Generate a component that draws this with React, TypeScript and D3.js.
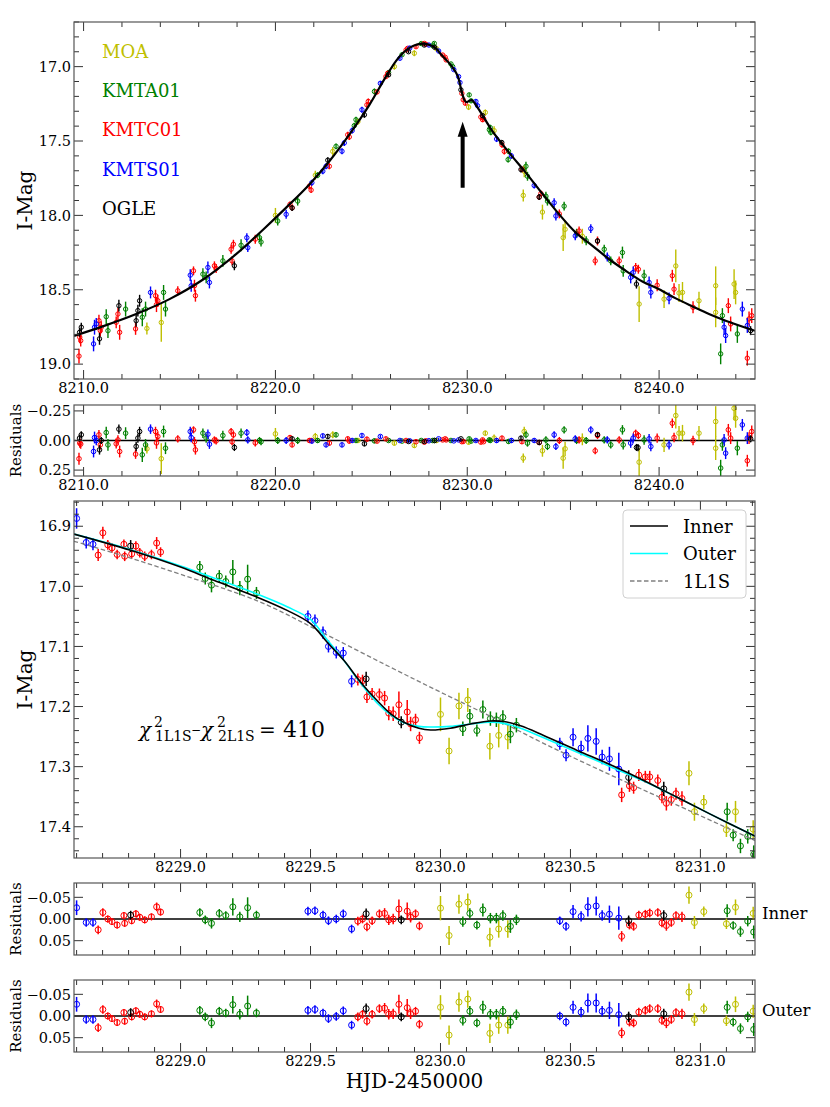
import React from 'react';
import * as d3 from 'd3';

type Pt = [number, number, number];
type ZPt = [number, number, number, number, number];

// ---- overview light curve: [HJD', I mag, err] ----
const moaTop: Pt[] = [
  [8213.30, 18.76, 0.04], [8214.05, 18.72, 0.13], [8220.00, 18.00, 0.05], [8222.08, 17.73, 0.03],
  [8222.99, 17.57, 0.03], [8224.30, 17.37, 0.02], [8226.20, 17.00, 0.02], [8227.24, 16.91, 0.02],
  [8228.40, 16.88, 0.02], [8230.07, 17.272, 0.02], [8230.94, 17.308, 0.02], [8231.40, 17.43, 0.03],
  [8232.92, 17.866, 0.04], [8232.97, 17.703, 0.04], [8233.92, 17.978, 0.05], [8235.00, 18.15, 0.09],
  [8235.10, 18.094, 0.06], [8236.00, 18.14, 0.05], [8238.96, 18.596, 0.12], [8240.26, 18.563, 0.06],
  [8240.87, 18.34, 0.11], [8241.04, 18.522, 0.06], [8241.22, 18.518, 0.07], [8242.08, 18.574, 0.06],
  [8242.95, 18.473, 0.13], [8242.95, 18.652, 0.1], [8243.91, 18.462, 0.1], [8243.99, 18.518, 0.08],
];
const kmtaTop: Pt[] = [
  [8211.18, 18.681, 0.05], [8211.27, 18.775, 0.05], [8212.19, 18.63, 0.05], [8213.06, 18.685, 0.06],
  [8213.23, 18.63, 0.05], [8214.17, 18.518, 0.05], [8214.27, 18.63, 0.05], [8216.22, 18.395, 0.04],
  [8216.39, 18.417, 0.04], [8217.26, 18.306, 0.04], [8218.21, 18.201, 0.04], [8219.17, 18.15, 0.03],
  [8219.25, 18.179, 0.03], [8220.12, 18.038, 0.03], [8221.16, 17.904, 0.03], [8222.20, 17.73, 0.02],
  [8223.16, 17.536, 0.02], [8224.11, 17.397, 0.02], [8224.20, 17.357, 0.02], [8225.16, 17.167, 0.02],
  [8225.90, 17.04, 0.015], [8226.60, 16.92, 0.01], [8227.60, 16.845, 0.01], [8228.20, 16.86, 0.01],
  [8228.28, 16.844, 0.01], [8229.15, 16.982, 0.01], [8229.24, 17.0, 0.01], [8230.10, 17.19, 0.015],
  [8230.20, 17.23, 0.015], [8231.15, 17.424, 0.02], [8231.20, 17.41, 0.02], [8231.23, 17.442, 0.02],
  [8232.13, 17.625, 0.02], [8232.15, 17.569, 0.02], [8233.06, 17.67, 0.03], [8233.14, 17.737, 0.03],
  [8234.10, 17.871, 0.03], [8234.18, 17.904, 0.03], [8235.05, 17.938, 0.03], [8235.70, 18.12, 0.03],
  [8236.20, 18.17, 0.03], [8237.14, 18.228, 0.03], [8237.48, 18.306, 0.03], [8238.09, 18.25, 0.04],
  [8238.13, 18.373, 0.04], [8239.22, 18.406, 0.04], [8243.21, 18.931, 0.07], [8243.30, 18.674, 0.05],
  [8244.08, 18.797, 0.06],
];
const kmtcTop: Pt[] = [
  [8209.76, 18.946, 0.05], [8209.80, 18.819, 0.04], [8209.85, 18.842, 0.04], [8210.80, 18.708, 0.04],
  [8210.87, 18.775, 0.04], [8210.92, 18.752, 0.04], [8211.70, 18.719, 0.04], [8211.79, 18.663, 0.04],
  [8211.88, 18.786, 0.05], [8212.71, 18.763, 0.04], [8213.75, 18.54, 0.04], [8213.80, 18.60, 0.05],
  [8213.87, 18.574, 0.04], [8214.91, 18.507, 0.03], [8215.73, 18.373, 0.03], [8215.78, 18.473, 0.04],
  [8215.83, 18.54, 0.04], [8216.82, 18.339, 0.03], [8216.91, 18.357, 0.03], [8217.69, 18.228, 0.03],
  [8217.74, 18.306, 0.03], [8217.81, 18.194, 0.03], [8218.95, 18.16, 0.03], [8220.76, 17.926, 0.02],
  [8220.87, 17.949, 0.02], [8221.77, 17.804, 0.02], [8221.86, 17.83, 0.02], [8222.81, 17.67, 0.02],
  [8223.77, 17.458, 0.02], [8223.85, 17.473, 0.02], [8224.77, 17.257, 0.02], [8224.84, 17.234, 0.02],
  [8225.30, 17.17, 0.015], [8225.76, 17.067, 0.015], [8225.85, 17.045, 0.015], [8226.81, 16.888, 0.01],
  [8226.89, 16.877, 0.01], [8227.33, 16.866, 0.01], [8227.76, 16.844, 0.01], [8227.85, 16.85, 0.01],
  [8228.72, 16.922, 0.01], [8228.85, 16.937, 0.01], [8228.90, 16.955, 0.01], [8229.72, 17.18, 0.01],
  [8229.79, 17.223, 0.015], [8229.90, 17.246, 0.015], [8230.71, 17.339, 0.015], [8230.80, 17.357, 0.015],
  [8230.85, 17.35, 0.01], [8231.81, 17.525, 0.02], [8231.93, 17.57, 0.02], [8232.85, 17.69, 0.02],
  [8233.75, 17.877, 0.02], [8233.84, 17.853, 0.02], [8234.80, 17.99, 0.03], [8235.83, 18.105, 0.03],
  [8236.67, 18.306, 0.03], [8236.79, 18.172, 0.03], [8237.92, 18.306, 0.03], [8238.78, 18.35, 0.03],
  [8238.92, 18.362, 0.03], [8239.90, 18.47, 0.04], [8240.69, 18.406, 0.04], [8240.78, 18.496, 0.04],
  [8241.77, 18.618, 0.04], [8243.61, 18.607, 0.05], [8243.73, 18.73, 0.05], [8244.60, 18.96, 0.05],
  [8244.69, 18.696, 0.05], [8244.83, 18.674, 0.05],
];
const kmtsTop: Pt[] = [
  [8210.52, 18.864, 0.05], [8210.57, 18.752, 0.05], [8210.66, 18.73, 0.04], [8213.49, 18.518, 0.04],
  [8215.56, 18.402, 0.04], [8215.61, 18.473, 0.04], [8216.48, 18.35, 0.04], [8216.56, 18.451, 0.04],
  [8218.51, 18.15, 0.03], [8218.56, 18.217, 0.03], [8220.56, 17.993, 0.03], [8221.90, 17.78, 0.02],
  [8222.47, 17.703, 0.02], [8222.64, 17.67, 0.02], [8223.47, 17.569, 0.02], [8223.59, 17.513, 0.02],
  [8224.00, 17.43, 0.02], [8224.51, 17.29, 0.02], [8225.47, 17.112, 0.015], [8226.49, 16.944, 0.01],
  [8227.00, 16.875, 0.01], [8228.00, 16.855, 0.01], [8228.51, 16.895, 0.01], [8229.30, 17.02, 0.01],
  [8229.55, 17.067, 0.01], [8229.62, 17.107, 0.01], [8230.45, 17.234, 0.015], [8230.54, 17.263, 0.015],
  [8231.53, 17.487, 0.02], [8232.30, 17.60, 0.02], [8233.49, 17.799, 0.02], [8234.53, 17.915, 0.03],
  [8234.62, 18.004, 0.03], [8235.63, 18.138, 0.03], [8236.44, 18.089, 0.03], [8237.30, 18.28, 0.03],
  [8238.52, 18.417, 0.04], [8238.65, 18.384, 0.04], [8239.48, 18.451, 0.04], [8239.57, 18.518, 0.04],
  [8240.52, 18.558, 0.04], [8243.39, 18.752, 0.05], [8243.47, 18.808, 0.05], [8244.34, 18.63, 0.05],
  [8244.60, 18.74, 0.05],
];
const ogleTop: Pt[] = [
  [8209.79, 18.786, 0.03], [8209.88, 18.752, 0.03], [8210.83, 18.83, 0.04], [8211.84, 18.607, 0.04],
  [8212.74, 18.708, 0.04], [8212.83, 18.64, 0.04], [8212.92, 18.574, 0.04], [8217.86, 18.339, 0.03],
  [8220.87, 17.95, 0.02], [8222.73, 17.629, 0.02], [8224.64, 17.324, 0.02], [8225.90, 17.055, 0.015],
  [8226.94, 16.90, 0.01], [8227.76, 16.855, 0.01], [8228.30, 16.87, 0.01], [8229.67, 17.156, 0.01],
  [8230.80, 17.33, 0.015], [8231.80, 17.51, 0.015], [8232.80, 17.692, 0.02], [8233.75, 17.877, 0.02],
  [8236.79, 18.172, 0.02], [8238.82, 18.462, 0.03], [8244.77, 18.775, 0.03],
];

// ---- overview residuals: [HJD', residual, err] ----
const moaRes: Pt[] = [
  [8213.30, 0.07, 0.04], [8214.05, 0.154, 0.13], [8220.00, -0.056, 0.05], [8222.08, -0.034, 0.03],
  [8222.99, -0.048, 0.03], [8224.30, 0.0, 0.02], [8226.20, 0.022, 0.02], [8227.24, 0.042, 0.02],
  [8228.40, 0.0, 0.02], [8230.07, 0.014, 0.02], [8230.94, -0.062, 0.02], [8231.40, -0.02, 0.03],
  [8232.92, 0.149, 0.04], [8232.97, -0.076, 0.04], [8233.92, 0.087, 0.05], [8235.00, 0.149, 0.09],
  [8235.10, 0.07, 0.06], [8236.00, -0.01, 0.05], [8238.96, 0.183, 0.12], [8240.26, 0.037, 0.06],
  [8240.87, -0.211, 0.11], [8241.04, -0.062, 0.06], [8241.22, -0.062, 0.07], [8242.08, -0.062, 0.06],
  [8242.95, -0.16, 0.13], [8242.95, 0.065, 0.1], [8243.91, -0.272, 0.1], [8243.99, -0.188, 0.08],
];
const kmtaRes: Pt[] = [
  [8211.18, -0.067, 0.05], [8211.27, 0.037, 0.05], [8212.19, -0.062, 0.05], [8213.06, 0.121, 0.06],
  [8213.23, 0.037, 0.05], [8214.17, -0.076, 0.05], [8214.27, 0.065, 0.05], [8216.22, -0.062, 0.04],
  [8216.39, -0.02, 0.04], [8217.26, -0.042, 0.04], [8218.21, -0.062, 0.04], [8219.17, 0.0, 0.03],
  [8219.25, 0.01, 0.03], [8220.12, 0.0, 0.03], [8221.16, 0.0, 0.03], [8222.20, 0.0, 0.02],
  [8223.16, -0.048, 0.02], [8224.20, 0.0, 0.02], [8225.16, 0.003, 0.02], [8225.90, 0.0, 0.015],
  [8226.60, 0.005, 0.01], [8227.60, 0.0, 0.01], [8228.20, 0.0, 0.01], [8228.28, 0.0, 0.01],
  [8229.15, 0.0, 0.01], [8230.10, -0.014, 0.015], [8230.20, 0.005, 0.015], [8231.15, -0.005, 0.02],
  [8231.20, 0.0, 0.02], [8232.15, 0.008, 0.02], [8233.06, -0.048, 0.03], [8233.14, 0.022, 0.03],
  [8234.10, -0.005, 0.03], [8234.18, 0.051, 0.03], [8235.05, -0.09, 0.03], [8235.70, 0.0, 0.03],
  [8236.20, 0.0, 0.03], [8237.14, -0.005, 0.03], [8237.48, 0.037, 0.03], [8238.09, -0.09, 0.04],
  [8238.13, 0.037, 0.04], [8239.22, -0.005, 0.04], [8243.21, 0.233, 0.07], [8243.30, 0.037, 0.05],
  [8244.08, 0.065, 0.06],
];
const kmtcRes: Pt[] = [
  [8209.76, 0.154, 0.05], [8209.80, 0.022, 0.04], [8209.85, 0.03, 0.04], [8210.80, -0.048, 0.04],
  [8210.87, 0.037, 0.04], [8211.70, 0.028, 0.04], [8211.79, -0.005, 0.04], [8211.88, 0.093, 0.05],
  [8212.71, 0.115, 0.04], [8213.75, -0.076, 0.04], [8213.80, 0.02, 0.05], [8213.87, -0.034, 0.04],
  [8214.91, -0.014, 0.03], [8215.73, -0.09, 0.03], [8215.78, 0.01, 0.04], [8215.83, 0.079, 0.04],
  [8216.82, -0.005, 0.03], [8216.91, 0.003, 0.03], [8217.69, -0.076, 0.03], [8217.74, 0.01, 0.03],
  [8217.81, -0.048, 0.03], [8218.95, 0.02, 0.03], [8220.76, -0.025, 0.02], [8220.87, 0.037, 0.02],
  [8221.77, 0.0, 0.02], [8221.86, 0.0, 0.02], [8222.81, 0.022, 0.02], [8223.77, -0.014, 0.02],
  [8223.85, 0.005, 0.02], [8224.77, -0.011, 0.02], [8225.30, 0.005, 0.015], [8225.76, -0.014, 0.015],
  [8226.81, 0.0, 0.01], [8227.33, 0.01, 0.01], [8227.76, 0.014, 0.01], [8227.85, 0.003, 0.01],
  [8228.72, -0.005, 0.01], [8228.85, -0.014, 0.01], [8228.90, -0.005, 0.01], [8229.72, 0.01, 0.01],
  [8229.79, 0.008, 0.015], [8230.71, 0.014, 0.015], [8230.80, -0.005, 0.015], [8230.85, 0.01, 0.01],
  [8231.81, -0.02, 0.02], [8232.85, 0.01, 0.02], [8233.75, 0.017, 0.02], [8234.80, 0.0, 0.03],
  [8235.83, -0.005, 0.03], [8236.67, 0.087, 0.03], [8236.79, -0.042, 0.03], [8237.92, -0.005, 0.03],
  [8238.78, -0.062, 0.03], [8238.92, -0.042, 0.03], [8239.90, -0.02, 0.04], [8240.69, -0.146, 0.04],
  [8240.78, -0.025, 0.04], [8241.77, 0.0, 0.04], [8243.61, -0.09, 0.05], [8243.73, -0.02, 0.05],
  [8244.60, 0.171, 0.05], [8244.69, -0.02, 0.05], [8244.83, -0.076, 0.05],
];
const kmtsRes: Pt[] = [
  [8210.52, 0.093, 0.05], [8210.57, -0.025, 0.05], [8210.66, 0.0, 0.04], [8213.49, -0.096, 0.04],
  [8215.56, -0.076, 0.04], [8215.61, -0.025, 0.04], [8216.48, -0.053, 0.04], [8216.56, 0.031, 0.04],
  [8218.51, -0.067, 0.03], [8218.56, -0.005, 0.03], [8220.56, 0.0, 0.03], [8221.90, 0.005, 0.02],
  [8222.47, -0.039, 0.02], [8222.64, 0.037, 0.02], [8223.47, 0.037, 0.02], [8224.00, 0.0, 0.02],
  [8224.51, -0.042, 0.02], [8225.47, -0.034, 0.015], [8226.49, 0.0, 0.01], [8227.00, 0.003, 0.01],
  [8228.00, 0.002, 0.01], [8228.51, -0.014, 0.01], [8229.30, 0.003, 0.01], [8229.55, -0.005, 0.01],
  [8230.45, 0.0, 0.015], [8231.53, 0.0, 0.02], [8232.30, 0.0, 0.02], [8233.49, 0.0, 0.02],
  [8234.53, -0.048, 0.03], [8234.62, 0.051, 0.03], [8235.63, -0.014, 0.03], [8236.44, -0.09, 0.03],
  [8237.30, -0.005, 0.03], [8238.52, 0.022, 0.04], [8238.65, -0.02, 0.04], [8239.48, -0.014, 0.04],
  [8239.57, 0.051, 0.04], [8240.52, 0.037, 0.04], [8243.39, -0.005, 0.05], [8243.47, 0.107, 0.05],
  [8244.34, -0.132, 0.05], [8244.60, -0.02, 0.05],
];
const ogleRes: Pt[] = [
  [8209.79, -0.02, 0.03], [8209.88, -0.048, 0.03], [8210.83, 0.079, 0.04], [8210.92, 0.0, 0.03],
  [8211.84, -0.096, 0.04], [8212.74, 0.05, 0.04], [8212.83, -0.02, 0.04], [8212.92, -0.076, 0.04],
  [8217.86, 0.059, 0.03], [8220.87, -0.014, 0.02], [8222.73, -0.034, 0.02], [8224.64, 0.028, 0.02],
  [8226.94, 0.008, 0.01], [8227.76, 0.008, 0.01], [8228.30, 0.0, 0.01], [8229.67, -0.014, 0.01],
  [8232.80, -0.02, 0.02], [8233.75, 0.017, 0.02], [8236.79, -0.05, 0.02], [8238.82, 0.059, 0.03],
  [8238.90, 0.06, 0.03], [8244.77, -0.014, 0.03],
];

// ---- anomaly zoom: [HJD', I mag, err, resid inner, resid outer] ----
const moaZoom: ZPt[] = [
  [8230.000, 17.213, 0.028, -0.025, -0.020], [8230.033, 17.274, 0.022, 0.038, 0.044],
  [8230.071, 17.199, 0.022, -0.034, -0.032], [8230.105, 17.189, 0.02, -0.039, -0.039],
  [8230.190, 17.266, 0.022, 0.042, 0.040], [8230.224, 17.248, 0.02, 0.023, 0.021],
  [8230.259, 17.251, 0.02, 0.023, 0.021], [8230.956, 17.311, 0.02, -0.055, -0.055],
  [8230.977, 17.375, 0.015, 0.008, 0.008], [8231.013, 17.359, 0.012, -0.017, -0.017],
  [8231.100, 17.405, 0.012, 0.011, 0.011], [8231.135, 17.375, 0.018, -0.027, -0.027],
  [8231.203, 17.404, 0.015, -0.013, -0.011],
];
const kmtaZoom: ZPt[] = [
  [8229.074, 16.968, 0.01, -0.015, -0.013], [8229.095, 16.987, 0.01, 0.002, 0.002],
  [8229.119, 16.998, 0.012, 0.010, 0.016], [8229.149, 16.983, 0.01, -0.013, -0.011],
  [8229.174, 16.992, 0.01, -0.008, -0.007], [8229.201, 16.976, 0.02, -0.028, -0.026],
  [8229.228, 17.003, 0.012, -0.005, -0.004], [8229.258, 16.988, 0.024, -0.026, -0.023],
  [8229.292, 17.011, 0.01, -0.009, -0.007], [8230.086, 17.237, 0.012, 0.006, 0.010],
  [8230.113, 17.216, 0.012, -0.013, -0.011], [8230.140, 17.240, 0.01, 0.014, 0.016],
  [8230.163, 17.205, 0.015, -0.021, -0.020], [8230.192, 17.220, 0.012, -0.002, -0.004],
  [8230.215, 17.222, 0.012, -0.002, -0.004], [8230.240, 17.218, 0.012, -0.008, -0.011],
  [8230.269, 17.246, 0.015, 0.017, 0.014], [8230.292, 17.231, 0.012, 0.002, -0.003],
  [8231.103, 17.375, 0.015, -0.019, -0.020], [8231.126, 17.414, 0.01, 0.015, 0.014],
  [8231.154, 17.432, 0.012, 0.029, 0.029], [8231.182, 17.416, 0.012, 0.005, 0.002],
  [8231.205, 17.446, 0.015, 0.030, 0.031],
];
const kmtcZoom: ZPt[] = [
  [8228.683, 16.948, 0.01, 0.025, 0.027], [8228.701, 16.911, 0.01, -0.015, -0.015],
  [8228.720, 16.931, 0.008, 0.0, 0.0], [8228.736, 16.936, 0.008, 0.006, 0.006],
  [8228.756, 16.947, 0.008, 0.014, 0.015], [8228.782, 16.930, 0.008, -0.008, -0.008],
  [8228.785, 16.950, 0.008, 0.010, 0.012], [8228.812, 16.946, 0.008, 0.004, 0.002],
  [8228.828, 16.933, 0.008, -0.012, -0.012], [8228.843, 16.944, 0.008, -0.004, -0.004],
  [8228.862, 16.950, 0.008, 0.002, 0.002], [8228.888, 16.947, 0.008, -0.005, -0.005],
  [8228.908, 16.928, 0.01, -0.028, -0.028], [8228.923, 16.943, 0.008, -0.016, -0.015],
  [8229.682, 17.155, 0.01, 0.005, 0.002], [8229.700, 17.157, 0.01, 0.0, -0.004],
  [8229.717, 17.184, 0.01, 0.018, 0.012], [8229.737, 17.179, 0.01, 0.004, -0.004],
  [8229.765, 17.180, 0.01, -0.012, -0.017], [8229.785, 17.186, 0.012, -0.013, -0.018],
  [8229.801, 17.211, 0.012, 0.002, -0.004], [8229.818, 17.212, 0.012, 0.0, -0.005],
  [8229.840, 17.197, 0.022, -0.023, -0.027], [8229.872, 17.209, 0.02, -0.018, -0.019],
  [8229.885, 17.229, 0.012, -0.004, -0.005], [8229.904, 17.222, 0.01, -0.012, -0.011],
  [8229.919, 17.252, 0.01, 0.016, 0.019], [8230.697, 17.347, 0.012, 0.040, 0.039],
  [8230.727, 17.332, 0.01, 0.014, 0.014], [8230.743, 17.335, 0.01, 0.017, 0.016],
  [8230.763, 17.314, 0.01, -0.009, -0.009], [8230.788, 17.317, 0.01, -0.011, -0.013],
  [8230.805, 17.317, 0.01, -0.014, -0.017], [8230.836, 17.323, 0.01, -0.015, -0.017],
  [8230.852, 17.351, 0.01, 0.009, 0.010], [8230.869, 17.361, 0.012, 0.015, 0.016],
  [8230.888, 17.355, 0.01, 0.008, 0.008], [8230.906, 17.345, 0.01, -0.008, -0.008],
  [8230.929, 17.353, 0.012, -0.005, -0.005],
];
const kmtsZoom: ZPt[] = [
  [8228.600, 16.887, 0.017, -0.026, -0.027], [8228.637, 16.927, 0.01, 0.008, 0.008],
  [8228.663, 16.930, 0.01, 0.008, 0.008], [8229.490, 17.050, 0.01, -0.018, -0.013],
  [8229.517, 17.057, 0.01, -0.019, -0.015], [8229.548, 17.077, 0.01, -0.009, -0.007],
  [8229.569, 17.100, 0.01, 0.004, 0.006], [8229.599, 17.110, 0.01, 0.0, 0.001],
  [8229.626, 17.111, 0.01, -0.012, -0.012], [8229.658, 17.158, 0.01, 0.023, 0.021],
  [8230.459, 17.262, 0.01, 0.004, 0.0], [8230.483, 17.281, 0.01, 0.017, 0.014],
  [8230.510, 17.251, 0.015, -0.017, -0.020], [8230.541, 17.269, 0.012, -0.006, -0.009],
  [8230.567, 17.253, 0.022, -0.028, -0.030], [8230.599, 17.258, 0.022, -0.030, -0.030],
  [8230.622, 17.284, 0.012, -0.008, -0.011], [8230.650, 17.287, 0.02, -0.011, -0.013],
  [8230.686, 17.304, 0.027, -0.002, -0.003],
];
const ogleZoom: ZPt[] = [
  [8228.808, 16.933, 0.01, -0.009, -0.008], [8229.714, 17.154, 0.012, -0.012, -0.017],
  [8229.849, 17.226, 0.01, 0.002, 0.002], [8230.724, 17.318, 0.012, 0.004, 0.002],
  [8230.859, 17.337, 0.012, -0.008, -0.005],
];

// ---- model curves [HJD', I mag] ----
const modelTop: [number, number][] = [
  [8209.5, 18.81], [8211.0, 18.746], [8212.74, 18.663], [8214.48, 18.563], [8216.21, 18.433],
  [8217.95, 18.261], [8219.34, 18.098], [8220.56, 17.948], [8221.77, 17.792], [8222.81, 17.636],
  [8223.85, 17.457], [8224.9, 17.257], [8225.76, 17.067], [8226.3, 16.96], [8226.63, 16.91],
  [8227.0, 16.872], [8227.4, 16.85], [8227.75, 16.845], [8228.05, 16.855], [8228.37, 16.877],
  [8228.6, 16.913], [8229.0, 16.968], [8229.3, 17.017], [8229.5, 17.062], [8229.628, 17.123],
  [8229.756, 17.19], [8229.859, 17.226], [8229.962, 17.239], [8230.115, 17.229], [8230.244, 17.225],
  [8230.397, 17.248], [8230.526, 17.273], [8230.654, 17.297], [8230.91, 17.351], [8231.32, 17.435],
  [8232.19, 17.58], [8233.06, 17.714], [8233.92, 17.855], [8234.79, 17.993], [8235.66, 18.116],
  [8236.53, 18.205], [8237.4, 18.295], [8238.27, 18.373], [8239.13, 18.444], [8240.0, 18.496],
  [8240.87, 18.558], [8241.74, 18.612], [8242.6, 18.663], [8243.47, 18.708], [8245.0, 18.776],
];
const modelInner: [number, number][] = [
  [8228.59, 16.913], [8228.808, 16.94], [8229.0, 16.968], [8229.128, 16.99], [8229.295, 17.018],
  [8229.41, 17.04], [8229.5, 17.062], [8229.564, 17.093], [8229.628, 17.123], [8229.692, 17.159],
  [8229.756, 17.19], [8229.808, 17.212], [8229.859, 17.226], [8229.917, 17.236], [8229.962, 17.239],
  [8230.038, 17.236], [8230.115, 17.229], [8230.192, 17.224], [8230.244, 17.225], [8230.308, 17.232],
  [8230.397, 17.248], [8230.526, 17.273], [8230.654, 17.297], [8230.782, 17.323], [8230.91, 17.351],
  [8231.038, 17.379], [8231.212, 17.416],
];
const modelOuter: [number, number][] = [
  [8228.59, 16.913], [8228.808, 16.939], [8229.0, 16.966], [8229.128, 16.986], [8229.295, 17.013],
  [8229.41, 17.034], [8229.5, 17.055], [8229.564, 17.089], [8229.628, 17.123], [8229.692, 17.161],
  [8229.756, 17.194], [8229.808, 17.214], [8229.859, 17.227], [8229.917, 17.233], [8229.962, 17.234],
  [8230.038, 17.233], [8230.115, 17.229], [8230.192, 17.226], [8230.244, 17.228], [8230.308, 17.236],
  [8230.397, 17.252], [8230.526, 17.276], [8230.654, 17.3], [8230.782, 17.324], [8230.91, 17.351],
  [8231.038, 17.379], [8231.212, 17.416],
];
const model1L1S: [number, number][] = [
  [8228.59, 16.925], [8228.8, 16.952], [8229.0, 16.98], [8229.3, 17.025], [8229.55, 17.078],
  [8229.8, 17.133], [8230.0, 17.176], [8230.2, 17.218], [8230.4, 17.262], [8230.65, 17.313],
  [8230.9, 17.362], [8231.21, 17.423],
];

// ---- ticks ----
const topXTicks = [8210, 8220, 8230, 8240];
const topYTicks = [17.0, 17.5, 18.0, 18.5, 19.0];
const resTopTicks = [-0.25, 0, 0.25];
const zoomXTicks = [8229.0, 8229.5, 8230.0, 8230.5, 8231.0];
const zoomYTicks = [16.9, 17.0, 17.1, 17.2, 17.3, 17.4];
const resZoomTicks = [-0.05, 0, 0.05];
const legendItems = ['Inner', 'Outer', '1L1S'];

const SERIES = [
  { name: 'MOA', color: '#bfbf00', top: moaTop, res: moaRes, zoom: moaZoom },
  { name: 'KMTA01', color: '#008000', top: kmtaTop, res: kmtaRes, zoom: kmtaZoom },
  { name: 'KMTC01', color: '#ff0000', top: kmtcTop, res: kmtcRes, zoom: kmtcZoom },
  { name: 'KMTS01', color: '#0000ff', top: kmtsTop, res: kmtsRes, zoom: kmtsZoom },
  { name: 'OGLE', color: '#000000', top: ogleTop, res: ogleRes, zoom: ogleZoom },
];

const SERIF = "'DejaVu Serif', 'Liberation Serif', serif";
const L = 74, R = 755;

const xTop = d3.scaleLinear().domain([8209.5, 8245]).range([L, R]);
const yTop = d3.scaleLinear().domain([16.7, 19.1]).range([22, 379]);
const yRes = d3.scaleLinear().domain([-0.3, 0.3]).range([405, 476]);
const xZoom = d3.scaleLinear().domain([8228.59, 8231.21]).range([L, R]);
const yZoom = d3.scaleLinear().domain([16.858, 17.452]).range([501, 858]);
const yIn = d3.scaleLinear().domain([-0.083, 0.083]).range([883, 955]);
const yOut = d3.scaleLinear().domain([-0.083, 0.083]).range([980, 1052]);

type Scale = d3.ScaleLinear<number, number>;

const minors = (a: number, b: number, step: number, majors: number[]) =>
  d3.range(Math.ceil(a / step - 1e-6), Math.floor(b / step + 1e-6) + 1)
    .map(i => +(i * step).toFixed(5))
    .filter(v => !majors.some(m => Math.abs(m - v) < step / 10));

const f1 = d3.format('.1f');
const f2 = d3.format('.2f');

function Frame({ x, y, xMajor, xMinor, yMajor, yMinor, xFmt, yFmt, xLabels }: {
  x: Scale; y: Scale; xMajor: number[]; xMinor: number[]; yMajor: number[]; yMinor: number[];
  xFmt: (v: number) => string; yFmt: (v: number) => string; xLabels: boolean;
}) {
  const [x0, x1] = x.range();
  const [y0, y1] = y.range();
  const big = 9, small = 5;
  return (
    <g>
      <g stroke="#333" strokeWidth={1}>
        {xMajor.map(v => (
          <g key={'xa' + v}>
            <line x1={x(v)} x2={x(v)} y1={y1} y2={y1 - big} />
            <line x1={x(v)} x2={x(v)} y1={y0} y2={y0 + big} />
          </g>
        ))}
        {xMinor.map(v => (
          <g key={'xi' + v}>
            <line x1={x(v)} x2={x(v)} y1={y1} y2={y1 - small} />
            <line x1={x(v)} x2={x(v)} y1={y0} y2={y0 + small} />
          </g>
        ))}
        {yMajor.map(v => (
          <g key={'ya' + v}>
            <line x1={x0} x2={x0 + big} y1={y(v)} y2={y(v)} />
            <line x1={x1} x2={x1 - big} y1={y(v)} y2={y(v)} />
          </g>
        ))}
        {yMinor.map(v => (
          <g key={'yi' + v}>
            <line x1={x0} x2={x0 + small} y1={y(v)} y2={y(v)} />
            <line x1={x1} x2={x1 - small} y1={y(v)} y2={y(v)} />
          </g>
        ))}
      </g>
      <rect x={x0} y={y0} width={x1 - x0} height={y1 - y0} fill="none" stroke="#555" strokeWidth={1.2} />
      <g fontSize={14.5} fill="#000">
        {xLabels && xMajor.map(v => (
          <text key={'xl' + v} x={x(v)} y={y1 + 14} textAnchor="middle">{xFmt(v)}</text>
        ))}
        {yMajor.map(v => (
          <text key={'yl' + v} x={x0 - 3} y={y(v)} dy="0.36em" textAnchor="end">{yFmt(v)}</text>
        ))}
      </g>
    </g>
  );
}

function Marks({ data, x, y, color, r, ew }: {
  data: [number, number, number][]; x: Scale; y: Scale; color: string; r: number; ew: number;
}) {
  return (
    <g stroke={color} fill="none">
      {data.map(([t, m, e], i) => (
        <g key={i}>
          <line x1={x(t)} x2={x(t)} y1={y(m - e)} y2={y(m + e)} strokeWidth={ew} />
          <circle cx={x(t)} cy={y(m)} r={r} strokeWidth={1} />
        </g>
      ))}
    </g>
  );
}

function Clip({ id, x, y }: { id: string; x: Scale; y: Scale }) {
  const [x0, x1] = x.range();
  const [y0, y1] = y.range();
  return (
    <clipPath id={id}>
      <rect x={x0} y={y0} width={x1 - x0} height={y1 - y0} />
    </clipPath>
  );
}

export default function App() {
  const lineTop = d3.line<[number, number]>().x(d => xTop(d[0])).y(d => yTop(d[1])).curve(d3.curveCatmullRom);
  const lineZoom = d3.line<[number, number]>().x(d => xZoom(d[0])).y(d => yZoom(d[1])).curve(d3.curveCatmullRom);

  // arrow marking the anomaly
  const ax = xTop(8229.76);
  const aTip = yTop(17.37);
  const aTail = yTop(17.815);
  const arrow = `M${ax - 2},${aTail} L${ax - 2},${aTip + 15} L${ax - 5},${aTip + 15} L${ax},${aTip} L${ax + 5},${aTip + 15} L${ax + 2},${aTip + 15} L${ax + 2},${aTail} Z`;

  const topXMinor = minors(8210, 8245, 2, topXTicks);
  const zoomXMinor = minors(8228.6, 8231.2, 0.1, zoomXTicks);
  const lgX = 623, lgY = 510;

  return (
    <svg width={830} height={1107} style={{ position: 'absolute', left: 0, top: 0, background: '#fff', fontFamily: SERIF }}>
      <defs>
        <Clip id="c1" x={xTop} y={yTop} />
        <Clip id="c2" x={xTop} y={yRes} />
        <Clip id="c3" x={xZoom} y={yZoom} />
        <Clip id="c4" x={xZoom} y={yIn} />
        <Clip id="c5" x={xZoom} y={yOut} />
      </defs>

      {/* panel 1: full light curve */}
      <g clipPath="url(#c1)">
        {SERIES.map(s => <Marks key={s.name} data={s.top} x={xTop} y={yTop} color={s.color} r={2.2} ew={1.4} />)}
        <path d={lineTop(modelTop) || ''} fill="none" stroke="#000" strokeWidth={2.2} />
      </g>
      <path d={arrow} fill="#000" />
      <Frame x={xTop} y={yTop} xMajor={topXTicks} xMinor={topXMinor} yMajor={topYTicks}
        yMinor={minors(16.7, 19.1, 0.1, topYTicks)} xFmt={f1} yFmt={f1} xLabels={true} />
      <g fontSize={18}>
        {SERIES.map((s, i) => (
          <text key={s.name} x={102} y={58 + i * 39.2} fill={s.color}>{s.name}</text>
        ))}
      </g>

      {/* panel 2: residuals of full light curve */}
      <g clipPath="url(#c2)">
        <line x1={L} x2={R} y1={yRes(0)} y2={yRes(0)} stroke="#000" strokeWidth={1.5} />
        {SERIES.map(s => <Marks key={s.name} data={s.res} x={xTop} y={yRes} color={s.color} r={2.3} ew={1.4} />)}
      </g>
      <Frame x={xTop} y={yRes} xMajor={topXTicks} xMinor={topXMinor} yMajor={resTopTicks}
        yMinor={[]} xFmt={f1} yFmt={f2} xLabels={true} />

      {/* panel 3: anomaly zoom */}
      <g clipPath="url(#c3)">
        {SERIES.map(s => (
          <Marks key={s.name} data={s.zoom.map(d => [d[0], d[1], d[2]] as Pt)} x={xZoom} y={yZoom}
            color={s.color} r={3} ew={1.5} />
        ))}
        <path d={lineZoom(model1L1S) || ''} fill="none" stroke="#808080" strokeWidth={1.3} strokeDasharray="4.5,2.5" />
        <path d={lineZoom(modelOuter) || ''} fill="none" stroke="#00ffff" strokeWidth={1.6} />
        <path d={lineZoom(modelInner) || ''} fill="none" stroke="#000" strokeWidth={1.6} />
      </g>
      <Frame x={xZoom} y={yZoom} xMajor={zoomXTicks} xMinor={zoomXMinor} yMajor={zoomYTicks}
        yMinor={minors(16.86, 17.45, 0.02, zoomYTicks)} xFmt={f1} yFmt={f1} xLabels={true} />
      <g>
        <rect x={lgX} y={lgY} width={123} height={88} rx={4} fill="#fff" fillOpacity={0.85} stroke="#d0d0d0" />
        {legendItems.map((name, i) => {
          const ly = lgY + 16 + i * 27.5;
          const stroke = i === 0 ? '#000' : i === 1 ? '#00ffff' : '#808080';
          return (
            <g key={name}>
              <line x1={lgX + 7} x2={lgX + 45} y1={ly} y2={ly} stroke={stroke} strokeWidth={1.6}
                strokeDasharray={i === 2 ? '4.5,2.5' : undefined} />
              <text x={lgX + 60} y={ly + 6.5} fontSize={18}>{name}</text>
            </g>
          );
        })}
      </g>
      <g fill="#000">
        <text x={139} y={737} fontSize={20} fontStyle="italic">χ</text>
        <text x={154} y={727} fontSize={14}>2</text>
        <text x={155} y={741} fontSize={14}>1L1S</text>
        <text x={191} y={734} fontSize={12}>−</text>
        <text x={201} y={737} fontSize={20} fontStyle="italic">χ</text>
        <text x={217} y={727} fontSize={14}>2</text>
        <text x={218} y={741} fontSize={14}>2L1S</text>
        <text x={259} y={737} fontSize={20}>=</text>
        <text x={283} y={737} fontSize={22}>410</text>
      </g>

      {/* panel 4/5: zoom residuals */}
      <g clipPath="url(#c4)">
        <line x1={L} x2={R} y1={yIn(0)} y2={yIn(0)} stroke="#000" strokeWidth={1.5} />
        {SERIES.map(s => (
          <Marks key={s.name} data={s.zoom.map(d => [d[0], d[3], d[2]] as Pt)} x={xZoom} y={yIn}
            color={s.color} r={3} ew={1.5} />
        ))}
      </g>
      <Frame x={xZoom} y={yIn} xMajor={zoomXTicks} xMinor={zoomXMinor} yMajor={resZoomTicks}
        yMinor={[]} xFmt={f1} yFmt={f2} xLabels={false} />
      <g clipPath="url(#c5)">
        <line x1={L} x2={R} y1={yOut(0)} y2={yOut(0)} stroke="#000" strokeWidth={1.5} />
        {SERIES.map(s => (
          <Marks key={s.name} data={s.zoom.map(d => [d[0], d[4], d[2]] as Pt)} x={xZoom} y={yOut}
            color={s.color} r={3} ew={1.5} />
        ))}
      </g>
      <Frame x={xZoom} y={yOut} xMajor={zoomXTicks} xMinor={zoomXMinor} yMajor={resZoomTicks}
        yMinor={[]} xFmt={f1} yFmt={f2} xLabels={true} />
      <text x={762} y={919} fontSize={16.5}>Inner</text>
      <text x={762} y={1016} fontSize={16.5}>Outer</text>

      {/* axis titles */}
      <g fill="#000" textAnchor="middle">
        <text transform={`translate(32,${(22 + 379) / 2}) rotate(-90)`} fontSize={20}>I-Mag</text>
        <text transform={`translate(32,${(501 + 858) / 2}) rotate(-90)`} fontSize={20}>I-Mag</text>
        <text transform={`translate(21,${(405 + 476) / 2}) rotate(-90)`} fontSize={15}>Residuals</text>
        <text transform={`translate(21,${(883 + 955) / 2}) rotate(-90)`} fontSize={15}>Residuals</text>
        <text transform={`translate(21,${(980 + 1052) / 2}) rotate(-90)`} fontSize={15}>Residuals</text>
        <text x={(L + R) / 2} y={1088} fontSize={20}>HJD-2450000</text>
      </g>
    </svg>
  );
}
